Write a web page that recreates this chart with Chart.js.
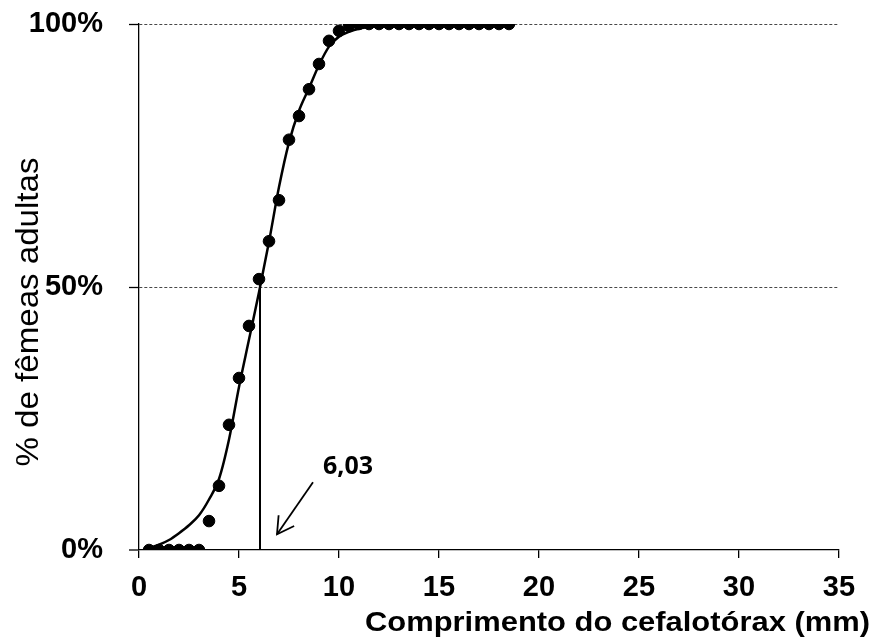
<!DOCTYPE html>
<html>
<head>
<meta charset="utf-8">
<script src="https://cdn.jsdelivr.net/npm/chart.js@4.4.1/dist/chart.umd.min.js"></script>
<style>
html,body{margin:0;padding:0;background:#fff;}
#wrap{width:875px;height:639px;}
</style>
</head>
<body>
<div id="wrap"><canvas id="c" width="875" height="639"></canvas></div>
<script>
// Observed points (x = cephalothorax length in mm, y = % adult females)
const obsX = [0.5,1,1.5,2,2.5,3,3.5,4,4.5,5,5.5,6,6.5,7,7.5,8,8.5,9,9.5,10,10.5,11,11.5,12,12.5,13,13.5,14,14.5,15,15.5,16,16.5,17,17.5,18,18.5];
const obsY = [0,0,0,0,0,0,5.5,12.2,23.8,32.7,42.6,51.5,58.7,66.5,78,82.5,87.6,92.4,96.8,98.7,99.6,100,100,100,100,100,100,100,100,100,100,100,100,100,100,100,100];
// Fitted curve
const fitX = [0.5,1,1.5,2,2.5,3,3.5,4,4.5,5,5.5,6,6.5,7,7.5,8,8.5,9,9.5,10,10.5,11,11.5,12,12.5,13];
const fitY = [0.4,1.0,1.9,3.2,4.7,6.6,9.6,13.5,21,31,40,49,58.6,69,77.5,83.5,87.8,92.2,95.7,97.6,98.5,99.1,99.4,99.7,99.85,99.95];
// L50 annotation
const l50 = 6.03;
const l50Label = "6,03";
const arrowFrom = {x: 8.7, y: 12.9};
const arrowTo = {x: 6.9, y: 3.0};
const labelAt = {x: 9.2, y: 15.8};
const yTicks = [0, 50, 100];
const xTicks = [0,5,10,15,20,25,30,35];
const xTitle = "Comprimento do cefalotórax (mm)";
const yTitle = "% de fêmeas adultas";

const obsData = obsX.map((x,i)=>({x, y: obsY[i]}));
const fitData = fitX.map((x,i)=>({x, y: fitY[i]}));

function fitText(ctx, text, targetW){
  const w = ctx.measureText(text).width;
  return targetW / w;
}

const annot = {
  id: 'annot',
  afterDatasetsDraw(chart){
    const {ctx, scales:{x, y}} = chart;
    ctx.save();
    // vertical L50 line
    ctx.strokeStyle = '#000';
    ctx.lineWidth = 2;
    ctx.beginPath();
    const px = Math.round(x.getPixelForValue(l50));
    ctx.moveTo(px, y.getPixelForValue(0) - 1);
    ctx.lineTo(px, y.getPixelForValue(50.5));
    ctx.stroke();
    // arrow
    const ax1 = x.getPixelForValue(arrowFrom.x), ay1 = y.getPixelForValue(arrowFrom.y);
    const ax2 = x.getPixelForValue(arrowTo.x), ay2 = y.getPixelForValue(arrowTo.y);
    ctx.lineWidth = 1.8;
    ctx.beginPath();
    ctx.moveTo(ax1, ay1); ctx.lineTo(ax2, ay2); ctx.stroke();
    const ang = Math.atan2(ay2-ay1, ax2-ax1);
    const hl = 19, ha = 0.52;
    ctx.beginPath();
    ctx.moveTo(ax2 - hl*Math.cos(ang-ha), ay2 - hl*Math.sin(ang-ha));
    ctx.lineTo(ax2, ay2);
    ctx.lineTo(ax2 - hl*Math.cos(ang+ha), ay2 - hl*Math.sin(ang+ha));
    ctx.stroke();
    // label
    ctx.fillStyle = '#000';
    ctx.font = 'bold 25px "Open Sans"';
    ctx.textAlign = 'left';
    ctx.textBaseline = 'middle';
    ctx.fillText(l50Label, x.getPixelForValue(labelAt.x), y.getPixelForValue(labelAt.y));
    // x title (right aligned, ends past chart area)
    ctx.font = 'bold 27px "Liberation Sans"';
    ctx.textAlign = 'right';
    ctx.textBaseline = 'alphabetic';
    let sx = fitText(ctx, xTitle, 505);
    ctx.save();
    ctx.translate(x.right + 31, 631);
    ctx.scale(sx, 1);
    ctx.fillText(xTitle, 0, 0);
    ctx.restore();
    // y title (rotated)
    ctx.font = '31px "Liberation Sans"';
    ctx.textAlign = 'center';
    ctx.textBaseline = 'alphabetic';
    let sy = fitText(ctx, yTitle, 309);
    ctx.save();
    ctx.translate(38, 312);
    ctx.rotate(-Math.PI/2);
    ctx.scale(sy, 1);
    ctx.fillText(yTitle, 0, 0);
    ctx.restore();
    ctx.restore();
  }
};

new Chart(document.getElementById('c'), {
  type: 'scatter',
  data: {
    datasets: [
      {
        type: 'line',
        data: fitData,
        borderColor: '#000',
        borderWidth: 2.5,
        pointRadius: 0,
        fill: false,
        cubicInterpolationMode: 'monotone',
        order: 2
      },
      {
        data: obsData,
        backgroundColor: '#000',
        borderColor: '#000',
        pointRadius: 5.8,
        pointHoverRadius: 5.8,
        order: 1
      }
    ]
  },
  plugins: [annot],
  options: {
    responsive: false,
    animation: false,
    events: [],
    layout: {padding: {left: 0, right: 36, top: 24, bottom: 0}},
    plugins: {legend: {display: false}, tooltip: {enabled: false}},
    scales: {
      x: {
        type: 'linear',
        min: 0, max: 35,
        afterBuildTicks: s => { s.ticks = xTicks.map(v=>({value:v})); },
        afterFit: s => { s.height = 89; s.paddingLeft = 0; s.paddingRight = 0; },
        border: {color: '#000', width: 1.3},
        grid: {drawOnChartArea: false, drawTicks: true, tickLength: 8, color: '#000', lineWidth: 1.3},
        ticks: {color: '#000', font: {family: '"Liberation Sans"', weight: 'bold', size: 29}, padding: 13, maxRotation: 0}
      },
      y: {
        min: 0, max: 100,
        afterBuildTicks: s => { s.ticks = yTicks.map(v=>({value:v})); },
        afterFit: s => { s.width = 139; s.paddingTop = 0; s.paddingBottom = 0; },
        border: {color: '#000', width: 1.3, dash: [3, 2]},
        grid: {
          drawTicks: true, tickLength: 10,
          color: '#333',
          lineWidth: ctx => ctx.tick && ctx.tick.value === 0 ? 0 : 0.9,
          tickBorderDash: [],
          tickColor: '#000',
          tickWidth: 1.3
        },
        ticks: {color: '#000', font: {family: '"Liberation Sans"', weight: 'bold', size: 29}, padding: 26, callback: v => v + '%'}
      }
    }
  }
});
</script>
</body>
</html>
